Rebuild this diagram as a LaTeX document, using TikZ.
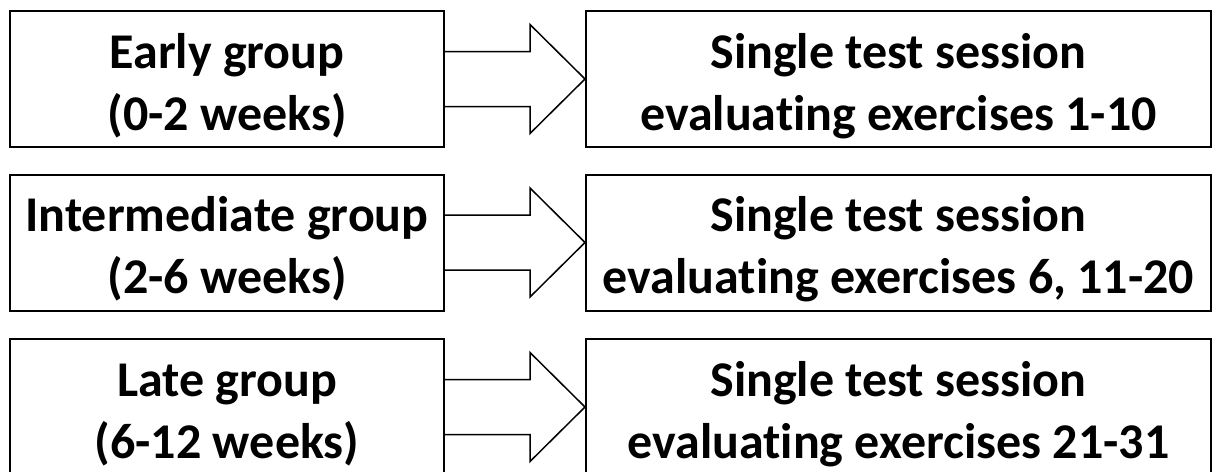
\documentclass[tikz,border=0pt]{standalone}
\usepackage{fontspec}
\setmainfont{Carlito}[Ligatures=NoCommon]
\usetikzlibrary{calc}

% two lines of box text, with struts so that the text sits low in the box
\newcommand{\boxlines}[2]{\rule{0pt}{54pt}#1\\#2\rule[-14pt]{0pt}{14pt}}

\tikzstyle{groupbox}=[draw,line width=2pt,minimum width=434pt,minimum height=136pt,align=center,inner sep=0pt,
	font=\bfseries\fontsize{50}{62}\selectfont]
\tikzstyle{sessionbox}=[groupbox,minimum width=625pt]
\tikzstyle{block arrow} = [draw,line width=1.5pt,fill=white,line join=miter]

\begin{document}
\begin{tikzpicture}[x=1pt,y=-1pt]
	\useasboundingbox (0,0) rectangle (1212,471);
	\node[groupbox] (early) at (227,79) {\boxlines{Early group}{(0-2 weeks)}};
		\node[groupbox] (inter) at (227,242.5) {\boxlines{Intermediate group}{(2-6 weeks)}};
		\node[groupbox] (late) at (227,407) {\boxlines{Late group}{(6-12 weeks)}};
		\node[sessionbox] (s1) at (898.5,79) {\boxlines{Single test session}{evaluating exercises 1-10}};
		\node[sessionbox] (s2) at (898.5,242.5) {\boxlines{Single test session}{evaluating exercises 6, 11-20}};
		\node[sessionbox] (s3) at (898.5,407) {\boxlines{Single test session}{evaluating exercises 21-31}};
   		 % Connect groups with sessions
   		 \foreach \source/ \dest in {early/s1, inter/s2, late/s3}
		 \path[block arrow] ($(\source.east)+(0,-27.5)$) -- ($(\dest.west)+(-55,-27.5)$)
			-- ($(\dest.west)+(-55,-54.5)$) -- (\dest.west) -- ($(\dest.west)+(-55,54.5)$)
			-- ($(\dest.west)+(-55,27.5)$) -- ($(\source.east)+(0,27.5)$);
\end{tikzpicture}
\end{document}
